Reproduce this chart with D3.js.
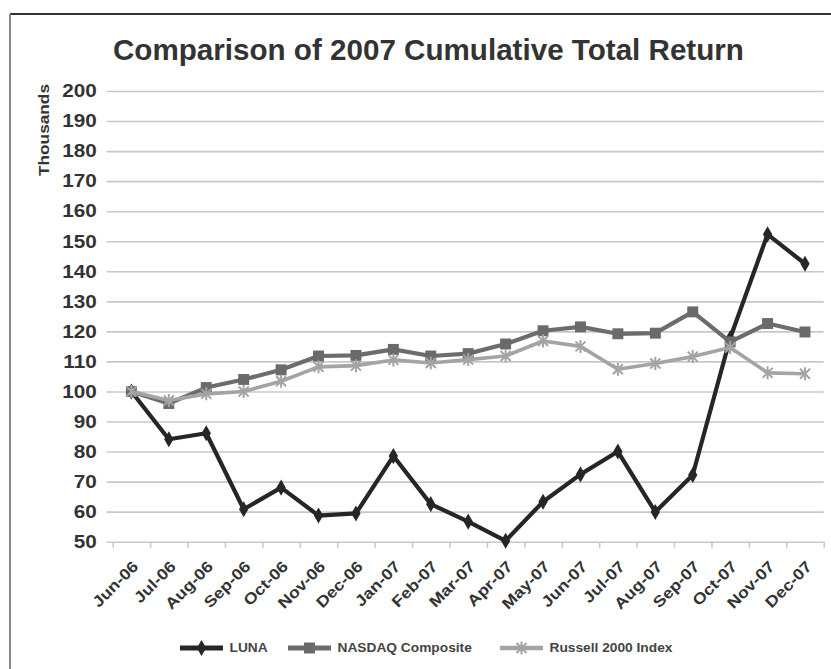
<!DOCTYPE html>
<meta charset="utf-8">
<html>
<head>
<script src="https://d3js.org/d3.v7.min.js"></script>
<style>
body { margin: 0; background-color: #ffffff; }
text { font-family: "Liberation Sans", Arial, Helvetica, sans-serif; }
</style>
</head>
<body>
<div id="chart"></div>
<script>

// data
var months = ["Jun-06", "Jul-06", "Aug-06", "Sep-06", "Oct-06", "Nov-06", "Dec-06",
              "Jan-07", "Feb-07", "Mar-07", "Apr-07", "May-07", "Jun-07", "Jul-07",
              "Aug-07", "Sep-07", "Oct-07", "Nov-07", "Dec-07"];
var luna    = [100, 84.1, 86.1, 60.8, 68.0, 58.7, 59.4, 78.5, 62.5, 56.7, 50.3, 63.3, 72.4, 80.0, 59.9, 72.2, 117.7, 152.3, 142.5];
var nasdaq  = [100, 96.0, 101.3, 104.0, 107.2, 111.8, 112.0, 114.0, 111.8, 112.6, 115.8, 120.2, 121.5, 119.2, 119.4, 126.5, 116.5, 122.6, 119.8];
var russell = [100, 97.0, 99.2, 100.0, 103.4, 108.2, 108.6, 110.5, 109.5, 110.6, 111.8, 116.8, 115.0, 107.4, 109.3, 111.6, 114.6, 106.2, 105.9];
var seriesNames = ["LUNA", "NASDAQ Composite", "Russell 2000 Index"];
var yTicks = [50, 60, 70, 80, 90, 100, 110, 120, 130, 140, 150, 160, 170, 180, 190, 200];

var W = 831, H = 669;
var margin = {top: 91, right: 7.3, bottom: 127.3, left: 112.7},
    width = W - margin.left - margin.right,
    height = H - margin.top - margin.bottom;

var svg = d3.select("#chart")
  .append("svg")
    .attr("width", W)
    .attr("height", H);

// frame of the chart area (cut off on right and bottom)
svg.append("line").attr("x1", 10).attr("y1", 14).attr("x2", W).attr("y2", 14)
  .attr("stroke", "#333").attr("stroke-width", 2);
svg.append("line").attr("x1", 10).attr("y1", 14).attr("x2", 10).attr("y2", H)
  .attr("stroke", "#888").attr("stroke-width", 2);

// title
svg.append("text")
  .attr("x", 113)
  .attr("y", 60)
  .attr("font-size", "29.6px")
  .attr("font-weight", "bold")
  .attr("fill", "#333")
  .text("Comparison of 2007 Cumulative Total Return");

var g = svg.append("g")
  .attr("transform", "translate(" + margin.left + "," + margin.top + ")");

var x = d3.scaleBand()
  .domain(months)
  .range([0, width]);
var bw = x.bandwidth();
var cx = function(m) { return x(m) + bw / 2; };

var y = d3.scaleLinear()
  .domain([50, 200])
  .range([height, 0]);

// gridlines + y labels (axis drawn from the right side so ticks stick out 6px on the left)
var yAxis = g.append("g")
  .attr("transform", "translate(" + width + ",0)")
  .call(d3.axisLeft(y).tickValues(yTicks).tickSize(width + 6).tickPadding(10));
yAxis.select(".domain").remove();
yAxis.selectAll(".tick line")
  .attr("stroke", "#c8c8c8")
  .attr("stroke-width", 1.6);
yAxis.selectAll(".tick text")
  .attr("x", 0)
  .attr("transform", "translate(" + (-(width + 16)) + ",0) scale(1.15,1)")
  .attr("font-size", "18px")
  .attr("font-weight", "bold")
  .attr("font-family", "Liberation Sans, Arial, sans-serif")
  .attr("fill", "#333");

// category tick marks on the x axis
var xb = d3.scaleLinear().domain([0, months.length]).range([0, width]);
var xAxis = g.append("g")
  .attr("transform", "translate(0," + height + ")")
  .call(d3.axisBottom(xb).tickValues(d3.range(months.length + 1)).tickFormat("").tickSize(6));
xAxis.select(".domain").remove();
xAxis.selectAll(".tick line")
  .attr("stroke", "#c8c8c8")
  .attr("stroke-width", 1.6);

// rotated month labels
g.append("g")
  .selectAll("text")
  .data(months)
  .enter()
  .append("text")
    .attr("transform", function(d) { return "translate(" + (cx(d) + 4) + "," + (height + 22) + ") rotate(-45) scale(1.15,1)"; })
    .attr("text-anchor", "end")
    .attr("dy", "0.35em")
    .attr("font-size", "15.5px")
    .attr("font-weight", "bold")
    .attr("fill", "#333")
    .text(function(d) { return d; });

// y axis title
svg.append("text")
  .attr("transform", "translate(44,130) rotate(-90) scale(1.15,1)")
  .attr("text-anchor", "middle")
  .attr("dy", "0.35em")
  .attr("font-size", "15px")
  .attr("font-weight", "bold")
  .attr("fill", "#333")
  .text("Thousands");

// series styles
var colors = ["#262626", "#6c6c6c", "#a4a4a4"];
var widths = [4.2, 4.2, 3.6];
var allSeries = [luna, nasdaq, russell];

var starPath = function(r) {
  return "M" + (-r) + "," + (-r) + "L" + r + "," + r +
         "M" + (-r) + "," + r + "L" + r + "," + (-r) +
         "M0," + (-r * 1.3) + "L0," + (r * 1.3);
};

var drawMarker = function(sel, i) {
  if (i == 0) {
    sel.append("path").attr("d", d3.symbol().type(d3.symbolDiamond).size(75)).attr("fill", colors[0]);
  } else if (i == 1) {
    sel.append("path").attr("d", d3.symbol().type(d3.symbolSquare).size(120)).attr("fill", "#6a6a6a");
  } else {
    sel.append("path").attr("d", starPath(5)).attr("fill", "none")
      .attr("stroke", colors[2]).attr("stroke-width", 2);
  }
};

var line = d3.line()
  .x(function(d, i) { return cx(months[i]); })
  .y(function(d) { return y(d); });

allSeries.forEach(function(s, i) {
  g.append("path")
    .datum(s)
    .attr("fill", "none")
    .attr("stroke", colors[i])
    .attr("stroke-width", widths[i])
    .attr("stroke-linejoin", "round")
    .attr("d", line);
  g.append("g")
    .selectAll("g")
    .data(s)
    .enter()
    .append("g")
      .attr("transform", function(d, k) { return "translate(" + cx(months[k]) + "," + y(d) + ")"; })
      .each(function() { drawMarker(d3.select(this), i); });
});

// legend
var legendX = [180, 288, 500];
var legend = svg.append("g").attr("transform", "translate(0,648)");
seriesNames.forEach(function(name, i) {
  var lg = legend.append("g").attr("transform", "translate(" + legendX[i] + ",0)");
  lg.append("line")
    .attr("x1", 0).attr("x2", 43)
    .attr("stroke", colors[i])
    .attr("stroke-width", widths[i] + 0.8);
  var m = lg.append("g").attr("transform", "translate(21.5,0)");
  drawMarker(m, i);
  lg.append("text")
    .attr("x", 45)
    .attr("dy", "0.35em")
    .attr("transform", "scale(1.1,1)")
    .attr("font-size", "12.5px")
    .attr("font-weight", "bold")
    .attr("fill", "#444")
    .text(name);
});

</script>
</body>
</html>
